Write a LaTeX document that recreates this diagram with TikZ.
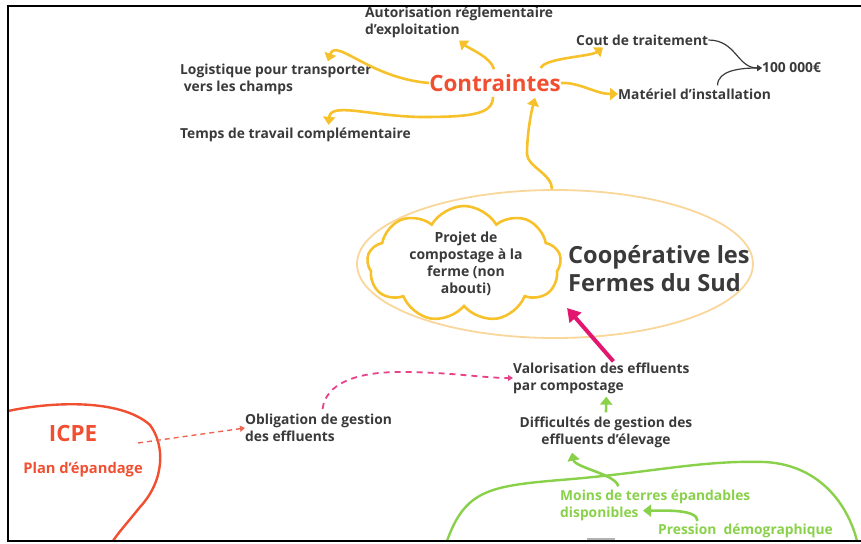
\documentclass[tikz,border=0pt]{standalone}
\usepackage{fontspec}
\setmainfont{Open Sans}
\usetikzlibrary{arrows.meta,shapes.geometric,shapes.symbols}
\definecolor{gold}{HTML}{F6C12A}
\definecolor{txtgray}{HTML}{3A3A3A}
\definecolor{redorange}{HTML}{F04F31}
\definecolor{salmon}{HTML}{EE6552}
\definecolor{leaf}{HTML}{8AD14B}
\definecolor{pinkarrow}{HTML}{E2166F}
\definecolor{pinkdash}{HTML}{E8418A}
\definecolor{peach}{HTML}{F9D69A}

\tikzset{
  lbl/.style={font=\bfseries\fontsize{13.8}{17}\selectfont,text=txtgray,align=left,inner sep=0pt},
  greenlbl/.style={lbl,text=leaf},
  goldarrow/.style={draw=gold,line width=2.6pt,-{Triangle[width=12pt,length=8pt]}},
  greenarrow/.style={draw=leaf,line width=2.6pt,-{Triangle[width=12pt,length=8pt]}},
  blackarrow/.style={draw=txtgray,line width=1.2pt,-{Triangle[width=6pt,length=5pt]}}
}

\begin{document}
\begin{tikzpicture}[x=1pt,y=-1pt]
    \useasboundingbox (0,0) rectangle (861,543);
    % big shapes
    \node[draw=peach,line width=1.8pt,ellipse,minimum width=396pt,minimum height=148pt] (coop) at (555,264) {};
    \node[draw=gold,line width=2.6pt,cloud,cloud puffs=9,cloud puff arc=120,aspect=1.7,
          minimum width=194pt,minimum height=116pt,inner sep=0pt] (cloud) at (464,264) {};
    \draw[redorange,line width=2.4pt] (8,411) .. controls (50,402) and (120,398) .. (150,425)
        .. controls (165,445) and (165,480) .. (140,507) .. controls (128,522) and (118,533) .. (113,541);
    \draw[leaf,line width=2.4pt] (447,541) .. controls (465,490) and (490,486) .. (560,480)
        .. controls (650,473) and (700,460) .. (765,462) .. controls (820,465) and (848,505) .. (857,541);
    % texts
    \node[font=\bfseries\fontsize{22.4}{26}\selectfont,text=redorange,inner sep=0pt] (ctr) at (495,83) {Contraintes};
    \node[lbl,anchor=west] (aut) at (365,22) {Autorisation réglementaire\\d'exploitation};
    \node[lbl,anchor=west] (log) at (180,79) {Logistique pour transporter\\\ vers les champs};
    \node[lbl,anchor=west] (tps) at (180,135) {Temps de travail complémentaire};
    \node[lbl,anchor=west] (cout) at (576,40) {Cout de traitement};
    \node[lbl,anchor=west] (mat) at (618,94) {Matériel d'installation};
    \node[lbl,anchor=west] (cent) at (762,68) {100 000€};
    \node[lbl,align=center,font=\bfseries\fontsize{14}{17}\selectfont] (proj) at (466,264) {Projet de\\compostage à la\\ferme (non\\abouti)};
    \node[lbl,anchor=west,font=\bfseries\fontsize{23.6}{28}\selectfont] (name) at (568,269) {Coopérative les\\Fermes du Sud};
    \node[lbl,anchor=west] (val) at (513,378) {Valorisation des effluents\\par compostage};
    \node[lbl,anchor=west] (obl) at (245,428) {Obligation de gestion\\des effluents};
    \node[lbl,align=center] (dif) at (606,432) {Difficultés de gestion des\\effluents d'élevage};
    \node[greenlbl,anchor=west] (moins) at (560,505) {Moins de terres épandables\\disponibles};
    \node[greenlbl,anchor=west] (pres) at (658,531) {Pression~~démographique};
    \node[font=\bfseries\fontsize{22.4}{26}\selectfont,text=redorange,inner sep=0pt] (icpe) at (73,433) {ICPE};
    \node[font=\bfseries\fontsize{14.7}{17}\selectfont,text=redorange,inner sep=0pt] (plan) at (83,470) {Plan d'épandage};
    \coordinate (icpeout) at (138,443);
    \coordinate (pinktip) at (567,308);
    % gold arrows round Contraintes
    \draw[goldarrow] ([xshift=-1pt,yshift=5pt]ctr.north) .. controls +(-3,-12) and +(10,8) .. ([yshift=-3pt]aut.south);
    \draw[goldarrow] (ctr.west) .. controls +(-60,-5) and +(8,-24) .. ([xshift=52pt,yshift=2pt]log.north);
    \draw[goldarrow] ([xshift=-2pt,yshift=-5pt]ctr.south) .. controls +(0,18) and +(50,0) .. (420,117)
        .. controls +(-50,-1) and +(2,-23) .. ([xshift=33pt,yshift=3pt]tps.north);
    \draw[goldarrow] ([xshift=-20pt,yshift=6pt]ctr.north east) .. controls +(2,-10) and +(-12,9) .. ([xshift=27pt,yshift=-2pt]cout.south west);
    \draw[goldarrow] (ctr.east) .. controls +(18,-1) and +(-22,0) .. (mat.west);
    \draw[goldarrow] ([xshift=-3pt]coop.north) .. controls +(0,-15) and +(0,12) .. ([xshift=-28pt,yshift=35pt]coop.north)
        .. controls +(0,-20) and +(-4,15) .. ([xshift=40pt,yshift=-6pt]ctr.south);
    % black arrows to the total
    \draw[blackarrow] (cout.east) .. controls +(28,0) and +(-25,0) .. (cent.west);
    \draw[blackarrow] ([xshift=23pt,yshift=3pt]mat.north) .. controls +(0,-15) and +(-22,0) .. (cent.west);
    % lower part
    \draw[pinkarrow,line width=4pt,-{Triangle[width=15pt,length=13pt]}] ([xshift=12pt,yshift=1pt]val.north) -- (pinktip);
    \draw[pinkdash,line width=1.8pt,dash pattern=on 6pt off 5pt,-{Triangle[width=6pt,length=5pt]}]
        ([xshift=4pt,yshift=5pt]obl.north) .. controls +(3,-25) and +(-45,0) .. (400,372) .. controls +(50,0) and +(-30,0) .. (val.west);
    \draw[salmon,line width=1.4pt,dash pattern=on 5pt off 4pt,-{Triangle[width=6pt,length=5pt]}] (icpeout) -- (obl.west);
    \draw[greenarrow] ([yshift=4pt]dif.north) -- ([xshift=5pt,yshift=-3pt]val.south);
    \draw[greenarrow] ([xshift=-37pt,yshift=3pt]moins.north) .. controls +(-2,-12) and +(3,15) .. ([xshift=-34pt,yshift=-5pt]dif.south);
    \draw[greenarrow] ([xshift=-48pt,yshift=3pt]pres.north) .. controls +(0,-12) and +(20,0) .. ([xshift=83pt,yshift=10pt]moins.south west);
    % frame
    \fill[gray!60] (587,538) rectangle (615,541);
    \draw[black,line width=2pt] (861,6) -- (8,6) -- (8,541) -- (861,541);
\end{tikzpicture}
\end{document}
